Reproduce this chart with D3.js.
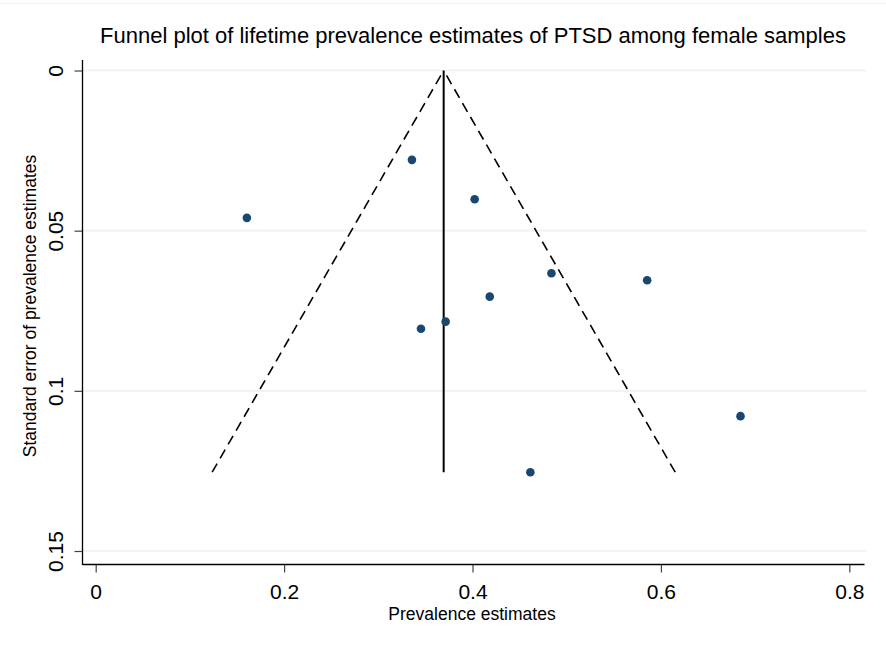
<!DOCTYPE html>
<meta charset="utf-8">
<style>
  body { margin: 0; background: #fff; }
  text { font-family: "Liberation Sans", Arial, sans-serif; fill: #000; }
</style>
<script src="https://d3js.org/d3.v7.min.js"></script>
<div id="chart"></div>
<script>

// study estimates: prevalence and its standard error
var prevalence = [0.1605, 0.3357, 0.4023, 0.4183, 0.3715, 0.3453, 0.4838, 0.5854, 0.6845, 0.4614];
var stdError   = [0.0460, 0.0279, 0.0402, 0.0706, 0.0784, 0.0806, 0.0633, 0.0655, 0.1079, 0.1254];
var pooled = 0.3694;
var xTicks = [0, 0.2, 0.4, 0.6, 0.8];
var yTicks = [0, 0.05, 0.1, 0.15];

var W = 886, H = 647;
var plot = {left: 82.5, right: 864.5, top: 60, bottom: 564.5};

var svg = d3.select("#chart").append("svg")
    .attr("width", W).attr("height", H);

var x = d3.scaleLinear().domain([0, 0.8]).range([95.7, 849.3]);
var y = d3.scaleLinear().domain([0, 0.15]).range([70.5, 551]);
var fmt = d3.format("~g");

// faint top edge
svg.append("line").attr("x1", 0).attr("x2", W).attr("y1", 3.5).attr("y2", 3.5)
    .attr("stroke", "#eef3f3").attr("stroke-width", 1);

// grid lines
svg.selectAll(".grid").data(yTicks).enter().append("line")
    .attr("x1", plot.left).attr("x2", plot.right + 2)
    .attr("y1", function(d) { return y(d); })
    .attr("y2", function(d) { return y(d); })
    .attr("stroke", "#eaf2f3").attr("stroke-width", 1.6);

// axes
var xAxis = svg.append("g")
    .attr("transform", "translate(0," + plot.bottom + ")")
    .call(d3.axisBottom(x).tickValues(xTicks).tickSize(8).tickFormat(fmt));
xAxis.select(".domain").remove();
xAxis.selectAll(".tick line").attr("stroke", "#444").attr("stroke-width", 1.2);
xAxis.selectAll(".tick text").attr("font-size", 21).attr("fill", "#000")
    .attr("font-family", "Liberation Sans, Arial, sans-serif")
    .attr("y", 34.5).attr("dy", null);

var yAxis = svg.append("g")
    .attr("transform", "translate(" + plot.left + ",0)")
    .call(d3.axisLeft(y).tickValues(yTicks).tickSize(8).tickFormat(fmt));
yAxis.select(".domain").remove();
yAxis.selectAll(".tick line").attr("stroke", "#444").attr("stroke-width", 1.2);
yAxis.selectAll(".tick text")
    .attr("font-size", 21).attr("fill", "#000")
    .attr("font-family", "Liberation Sans, Arial, sans-serif")
    .attr("text-anchor", "middle")
    .attr("x", null).attr("dy", null)
    .attr("transform", "translate(-19.5,0) rotate(-90)");

// frame lines (left and bottom)
svg.append("line").attr("x1", plot.left).attr("x2", plot.left)
    .attr("y1", plot.top).attr("y2", plot.bottom + 0.5)
    .attr("stroke", "#000").attr("stroke-width", 1.3);
svg.append("line").attr("x1", plot.left).attr("x2", plot.right)
    .attr("y1", plot.bottom).attr("y2", plot.bottom)
    .attr("stroke", "#000").attr("stroke-width", 1.3);

// funnel
var maxSE = d3.max(stdError);
var funnel = [
  [[pooled - 1.96 * maxSE, maxSE], [pooled, 0]],
  [[pooled + 1.96 * maxSE, maxSE], [pooled, 0]]
];
var line = d3.line().x(function(d) { return x(d[0]); }).y(function(d) { return y(d[1]); });
svg.selectAll(".funnel").data(funnel).enter().append("path")
    .attr("d", line).attr("fill", "none")
    .attr("stroke", "#000").attr("stroke-width", 1.6)
    .attr("stroke-dasharray", "10,6");

svg.append("path")
    .attr("d", line([[pooled, maxSE], [pooled, 0]]))
    .attr("stroke", "#000").attr("stroke-width", 2);

// points
svg.selectAll(".dot").data(prevalence).enter().append("circle")
    .attr("cx", function(d) { return x(d); })
    .attr("cy", function(d, i) { return y(stdError[i]); })
    .attr("r", 4.3)
    .attr("fill", "#1a476f");

// titles
svg.append("text").attr("x", 473).attr("y", 43)
    .attr("text-anchor", "middle").attr("font-size", 22)
    .text("Funnel plot of lifetime prevalence estimates of PTSD among female samples");

svg.append("text").attr("x", 472).attr("y", 619.5)
    .attr("text-anchor", "middle").attr("font-size", 17.5)
    .text("Prevalence estimates");

svg.append("text")
    .attr("transform", "translate(35.5,306) rotate(-90)")
    .attr("text-anchor", "middle").attr("font-size", 17.5)
    .text("Standard error of prevalence estimates");

</script>
